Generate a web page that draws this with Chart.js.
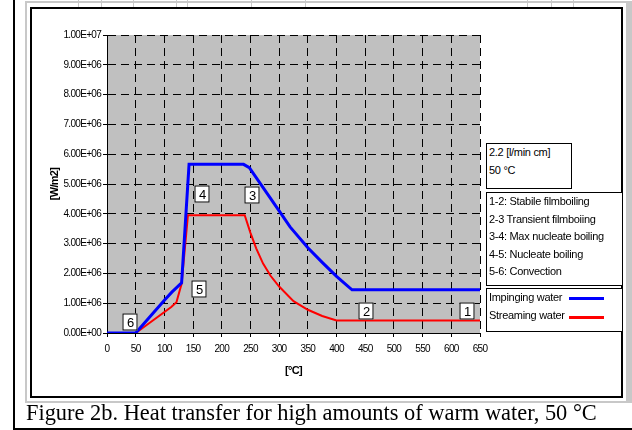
<!DOCTYPE html>
<html><head><meta charset="utf-8">
<script src="https://cdn.jsdelivr.net/npm/chart.js@4.4.0/dist/chart.umd.min.js"></script>
<style>
html,body{margin:0;padding:0;background:#fff;}
#wrap{position:relative;width:632px;height:430px;overflow:hidden;background:#fff;}
.ln{position:absolute;}
canvas{position:absolute;left:0;top:0;z-index:2;}
.box{position:absolute;z-index:3;border:1px solid #000;background:#fff;box-sizing:border-box;font:11px 'Liberation Sans',Arial,sans-serif;letter-spacing:-0.3px;line-height:17.6px;color:#000;white-space:nowrap;padding-left:2px;}
.box span{color:#000;}
.smp{position:absolute;z-index:4;height:3px;}
#caption{position:absolute;left:26px;top:402px;font:22.4px 'Liberation Serif','Times New Roman',serif;line-height:22px;white-space:nowrap;color:#000;z-index:3;}
</style></head>
<body>
<div id="wrap">
  <!-- page decorations -->
  <div class="ln" style="left:13px;top:0;width:2px;height:430px;background:#000"></div>
  <div class="ln" style="left:13px;top:428px;width:619px;height:2px;background:#000"></div>
  <div class="ln" style="left:25px;top:1px;width:607px;height:2px;background:#c8c8c8"></div>
  <div class="ln" style="left:25px;top:1px;width:2px;height:402px;background:#c8c8c8"></div>
  <div class="ln" style="left:626px;top:1px;width:6px;height:402px;background:#c8c8c8"></div>
  <div class="ln" style="left:25px;top:401px;width:607px;height:2px;background:#c8c8c8"></div>
  <div class="ln" style="left:78px;top:0;width:1px;height:7px;background:#c8c8c8"></div>
  <div class="ln" style="left:101px;top:0;width:1px;height:7px;background:#c8c8c8"></div>
  <div class="ln" style="left:133px;top:0;width:1px;height:7px;background:#c8c8c8"></div>
  <div class="ln" style="left:176px;top:0;width:1px;height:7px;background:#c8c8c8"></div>
  <div class="ln" style="left:187px;top:0;width:1px;height:7px;background:#c8c8c8"></div>
  <div class="ln" style="left:251px;top:0;width:1px;height:7px;background:#c8c8c8"></div>
  <div class="ln" style="left:305px;top:0;width:1px;height:7px;background:#c8c8c8"></div>
  <div class="ln" style="left:527px;top:0;width:1px;height:7px;background:#c8c8c8"></div>
  <div class="ln" style="left:551px;top:0;width:1px;height:7px;background:#c8c8c8"></div>
  <div class="ln" style="left:573px;top:0;width:1px;height:7px;background:#c8c8c8"></div>
  <div class="ln" style="left:30px;top:7px;width:593px;height:391px;border:2px solid #000;box-sizing:border-box;background:#fff"></div>
  <canvas id="c" width="632" height="430"></canvas>
  <div class="box" style="left:486px;top:143px;width:86px;height:46px;"><span>2.2 [l/min cm]</span><br><span>50 °C</span></div>
  <div class="box" style="left:486px;top:192px;width:137px;height:94px;">1-2: Stabile filmboiling<br>2-3 Transient filmboiing<br>3-4: Max nucleate boiling<br>4-5: Nucleate boiling<br>5-6: Convection</div>
  <div class="box" style="left:486px;top:288px;width:137px;height:44px;">Impinging water<br>Streaming water</div>
  <div class="smp" style="left:569px;top:297px;width:35px;background:#0000ff"></div>
  <div class="smp" style="left:569px;top:316px;width:35px;background:#ff0000"></div>
  <div id="caption">Figure 2b. Heat transfer for high amounts of warm water, 50 °C</div>
</div>
<script>
// ---- data ----
const tempImpinging = [0, 50, 100, 113, 130, 143, 238, 248, 300, 319, 350, 375, 400, 415, 427, 650];
const fluxImpinging = [0, 0, 1.10e6, 1.37e6, 1.68e6, 5.66e6, 5.66e6, 5.55e6, 4.10e6, 3.56e6, 2.86e6, 2.37e6, 1.90e6, 1.65e6, 1.45e6, 1.45e6];
const tempStreaming = [0, 50, 112, 121, 130, 141, 240, 250, 260, 272, 285, 300, 325, 350, 375, 400, 650];
const fluxStreaming = [0, 0, 0.87e6, 1.03e6, 1.65e6, 3.95e6, 3.95e6, 3.36e6, 2.84e6, 2.33e6, 1.92e6, 1.56e6, 1.07e6, 0.78e6, 0.57e6, 0.42e6, 0.42e6];
const xTickLabels = ['0','50','100','150','200','250','300','350','400','450','500','550','600','650'];
const yTickLabels = ['0.00E+00','1.00E+06','2.00E+06','3.00E+06','4.00E+06','5.00E+06','6.00E+06','7.00E+06','8.00E+06','9.00E+06','1.00E+07'];
const seriesNames = ['Impinging water', 'Streaming water'];
const markLabels = ['1','2','3','4','5','6'];
const markTemps  = [628, 452, 253, 166, 160, 40];
const markFluxes = [0.75e6, 0.75e6, 4.64e6, 4.66e6, 1.47e6, 0.38e6];

const toPts = (xs, ys) => xs.map((x, i) => ({x, y: ys[i]}));

const deco = {
  id: 'deco',
  beforeDraw(chart) {
    const {ctx, chartArea: a} = chart;
    ctx.save();
    ctx.fillStyle = '#c0c0c0';
    ctx.fillRect(a.left, a.top, a.right - a.left, a.bottom - a.top);
    ctx.restore();
    ctx.letterSpacing = '-0.7px';
  },
  afterDatasetsDraw(chart) {
    const {ctx, scales: {x, y}} = chart;
    ctx.save();
    ctx.letterSpacing = '0px';
    ctx.font = '13px "Liberation Sans", Arial, sans-serif';
    ctx.textAlign = 'center';
    ctx.textBaseline = 'middle';
    markLabels.forEach((t, i) => {
      const px = Math.round(x.getPixelForValue(markTemps[i]));
      const py = Math.round(y.getPixelForValue(markFluxes[i]));
      const w = 15, h = 17;
      ctx.fillStyle = '#fff';
      ctx.fillRect(px - w / 2, py - h / 2, w, h);
      ctx.strokeStyle = '#000';
      ctx.lineWidth = 1;
      ctx.strokeRect(px - w / 2 + 0.5, py - h / 2 + 0.5, w - 1, h - 1);
      ctx.fillStyle = '#000';
      ctx.fillText(t, px + 0.5, py + 1);
    });
    ctx.restore();
  }
};

new Chart(document.getElementById('c'), {
  type: 'line',
  data: {
    datasets: [
      {label: seriesNames[0], data: toPts(tempImpinging, fluxImpinging), borderColor: '#0000ff', borderWidth: 3, pointRadius: 0, tension: 0, fill: false},
      {label: seriesNames[1], data: toPts(tempStreaming, fluxStreaming), borderColor: '#ff0000', borderWidth: 2, pointRadius: 0, tension: 0, fill: false}
    ]
  },
  options: {
    responsive: false,
    animation: false,
    devicePixelRatio: 1,
    layout: {padding: {left: 0, right: 152, top: 35, bottom: 0}},
    plugins: {legend: {display: false}, tooltip: {enabled: false}},
    scales: {
      x: {
        type: 'linear', min: 0, max: 650,
        afterFit(s) { s.height = 97; },
        ticks: {stepSize: 50, autoSkip: false, maxRotation: 0, padding: 6, color: '#000',
          font: {family: '"Liberation Sans", Arial, sans-serif', size: 10},
          callback: (v, i) => xTickLabels[i]},
        grid: {color: '#000', lineWidth: 1, tickLength: 4, tickColor: '#000'},
        border: {display: true, color: '#000', width: 1, dash: [8, 5]},
        title: {display: true, text: '[°C]', color: '#000', padding: {top: 0, bottom: 52.7},
          font: {family: '"Liberation Sans", Arial, sans-serif', size: 11, weight: 'bold'}}
      },
      y: {
        type: 'linear', min: 0, max: 1e7,
        afterFit(s) { s.width = 107; },
        ticks: {stepSize: 1e6, autoSkip: false, padding: 2, color: '#000',
          font: {family: '"Liberation Sans", Arial, sans-serif', size: 10},
          callback: (v, i) => yTickLabels[i]},
        grid: {color: '#000', lineWidth: 1, tickLength: 4, tickColor: '#000'},
        border: {display: true, color: '#000', width: 1, dash: [8, 5]},
        title: {display: true, text: '[W/m2]', color: '#000', padding: {top: 48.4, bottom: 0},
          font: {family: '"Liberation Sans", Arial, sans-serif', size: 11, weight: 'bold'}}
      }
    }
  },
  plugins: [deco]
});
</script>
</body></html>
